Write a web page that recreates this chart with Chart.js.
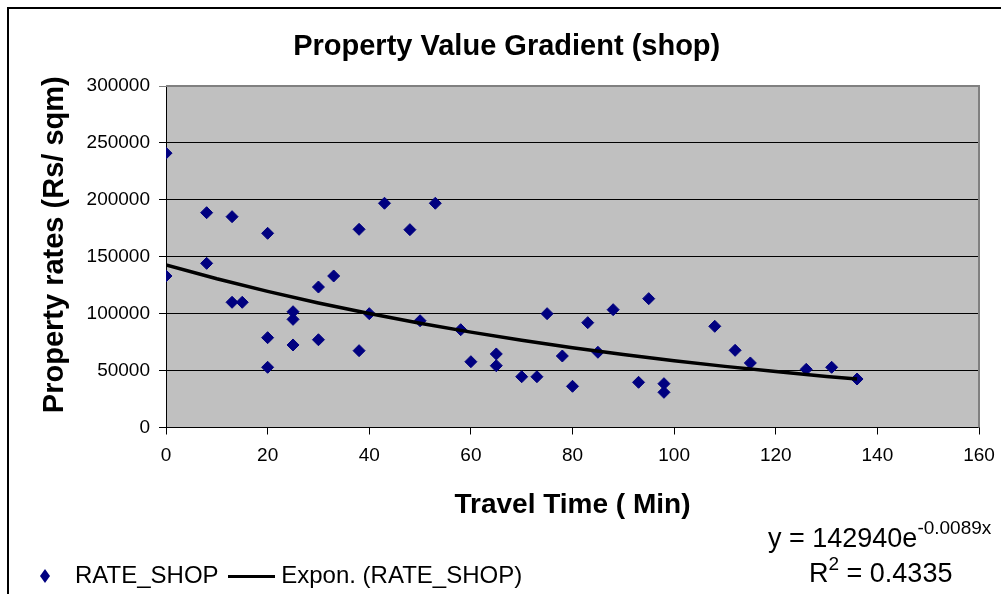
<!DOCTYPE html>
<html>
<head>
<meta charset="utf-8">
<script src="https://cdn.jsdelivr.net/npm/chart.js@4.4.1/dist/chart.umd.min.js"></script>
<style>
  html, body { margin: 0; padding: 0; background: #ffffff; }
  #wrap { width: 1001px; height: 594px; position: relative; }
</style>
</head>
<body>
<div id="wrap"><canvas id="c" width="1001" height="594"></canvas></div>
<script>
// ---- data ----
const travelTime = [0, 0, 8, 8, 13, 13, 15, 20, 20, 20, 25, 25, 25, 30, 30, 33, 38, 38, 43, 53, 48, 40, 50, 58, 60, 65, 65, 70, 73, 75, 78, 80, 83, 85, 88, 95, 93, 98, 98, 108, 112, 115, 126, 131, 136];
const rateShop = [241000, 133100, 188700, 144200, 185200, 110000, 110000, 170600, 78900, 52900, 101700, 95000, 72500, 123400, 77100, 133100, 174100, 67500, 197000, 197000, 173800, 100000, 93800, 85900, 57800, 64600, 54300, 44600, 44600, 100000, 62800, 36200, 92100, 66100, 103500, 113200, 39700, 38500, 30900, 88900, 67800, 56700, 51100, 52900, 42600];
const trendX = [0, 10, 20, 30, 40, 50, 60, 70, 80, 90, 100, 110, 120, 130, 136];
const trendY = [142900, 130700, 119600, 109400, 100100, 91500, 83800, 76600, 70100, 64100, 58700, 53700, 49100, 44900, 42600];
const xTickValues = [0, 20, 40, 60, 80, 100, 120, 140, 160];
const yTickValues = [0, 50000, 100000, 150000, 200000, 250000, 300000];
const chartTitle = 'Property Value Gradient (shop)';
const xTitle = 'Travel Time ( Min)';
const yTitle = 'Property rates (Rs/ sqm)';
const seriesName = 'RATE_SHOP';
const trendName = 'Expon. (RATE_SHOP)';
const equationMain = 'y = 142940e';
const equationSup = '-0.0089x';
const r2Sup = '2';
const r2Rest = ' = 0.4335';

const FAMILY = "'Liberation Sans', Arial, Helvetica, sans-serif";
const NAVY = '#000080';

// legend symbol images
function diamondCanvas() {
  const c = document.createElement('canvas');
  c.width = 10; c.height = 14;
  const g = c.getContext('2d');
  g.fillStyle = NAVY;
  g.beginPath();
  g.moveTo(5, 0); g.lineTo(10, 7); g.lineTo(5, 14); g.lineTo(0, 7); g.closePath();
  g.fill();
  return c;
}
function lineCanvas() {
  const c = document.createElement('canvas');
  c.width = 47; c.height = 3;
  const g = c.getContext('2d');
  g.fillStyle = '#000000';
  g.fillRect(0, 0, 47, 3);
  return c;
}
const legendDiamond = diamondCanvas();
const legendLine = lineCanvas();

const plotBg = {
  id: 'plotBg',
  beforeDraw(chart) {
    const {ctx, chartArea: a} = chart;
    ctx.save();
    ctx.fillStyle = '#C0C0C0';
    ctx.fillRect(a.left, a.top, a.right - a.left, a.bottom - a.top);
    ctx.restore();
  },
  beforeDatasetsDraw(chart) {
    const {ctx, chartArea: a} = chart;
    ctx.save();
    ctx.strokeStyle = '#808080';
    ctx.lineWidth = 2;
    ctx.beginPath();
    ctx.moveTo(a.left, a.top);
    ctx.lineTo(a.right, a.top);
    ctx.lineTo(a.right, a.bottom);
    ctx.stroke();
    ctx.restore();
  },
  afterLayout(chart) {
    const s = chart.scales.y;
    if (s && !s._shifted) {
      const orig = Object.getPrototypeOf(s).drawTitle;
      s.drawTitle = function () {
        this.ctx.save();
        this.ctx.translate(0, -12);
        orig.call(this);
        this.ctx.restore();
      };
      s._shifted = true;
    }
  },
  afterDraw(chart) {
    const ctx = chart.ctx;
    ctx.save();
    ctx.fillStyle = '#000000';
    ctx.textBaseline = 'alphabetic';
    ctx.textAlign = 'left';
    // equation
    ctx.font = '27px ' + FAMILY;
    let x = 768;
    ctx.fillText(equationMain, x, 547);
    x += ctx.measureText(equationMain).width;
    ctx.font = '19px ' + FAMILY;
    ctx.fillText(equationSup, x, 534);
    // R squared
    ctx.font = '27px ' + FAMILY;
    x = 809;
    ctx.fillText('R', x, 582);
    x += ctx.measureText('R').width;
    ctx.font = '19px ' + FAMILY;
    ctx.fillText(r2Sup, x, 570);
    x += ctx.measureText(r2Sup).width;
    ctx.font = '27px ' + FAMILY;
    ctx.fillText(r2Rest, x, 582);
    // outer chart border
    ctx.strokeStyle = '#000000';
    ctx.lineWidth = 2;
    ctx.strokeRect(8, 8, 1100, 700);
    ctx.restore();
  }
};

const scatterData = travelTime.map((t, i) => ({x: t, y: rateShop[i]}));
const trendData = trendX.map((t, i) => ({x: t, y: trendY[i]}));

new Chart(document.getElementById('c'), {
  type: 'scatter',
  data: {
    datasets: [
      {
        label: seriesName,
        data: scatterData,
        pointStyle: 'rectRot',
        pointRadius: 6,
        pointHoverRadius: 6,
        borderWidth: 1,
        backgroundColor: NAVY,
        borderColor: NAVY,
        order: 2
      },
      {
        label: trendName,
        data: trendData,
        showLine: true,
        borderColor: '#000000',
        borderWidth: 3.5,
        pointRadius: 0,
        pointHoverRadius: 0,
        fill: false,
        tension: 0,
        order: 1
      }
    ]
  },
  options: {
    responsive: false,
    animation: false,
    events: [],
    layout: { padding: { left: 12.4, right: 0, top: 0, bottom: -4 } },
    plugins: {
      tooltip: { enabled: false },
      title: {
        display: true,
        text: chartTitle,
        color: '#000000',
        font: { family: FAMILY, size: 29, weight: 'bold', lineHeight: 1.2 },
        padding: { top: 29.6, bottom: 21.6 }
      },
      legend: {
        display: true,
        position: 'bottom',
        align: 'start',
        labels: {
          usePointStyle: true,
          pointStyleWidth: 36,
          padding: 14.6,
          color: '#000000',
          font: { family: FAMILY, size: 24 },
          generateLabels: () => [
            { text: seriesName, pointStyle: legendDiamond, fillStyle: NAVY, strokeStyle: NAVY, lineWidth: 0, hidden: false, rotation: 0, datasetIndex: 0 },
            { text: trendName, pointStyle: legendLine, fillStyle: '#000', strokeStyle: '#000', lineWidth: 0, hidden: false, rotation: 0, datasetIndex: 1 }
          ]
        }
      }
    },
    scales: {
      x: {
        type: 'linear',
        position: 'bottom',
        min: 0,
        max: 160,
        afterBuildTicks: (s) => { s.ticks = xTickValues.map(v => ({value: v})); },
        afterFit: (s) => { s.height = 121.9; },
        ticks: {
          color: '#000000',
          font: { family: FAMILY, size: 19, lineHeight: 1.7 },
          padding: 5,
          maxRotation: 0,
          autoSkip: false,
          callback: (v) => String(v)
        },
        grid: { drawOnChartArea: false, drawTicks: true, tickLength: 7, color: '#000000' },
        border: { display: true, color: '#000000', width: 1 },
        title: {
          display: true,
          text: xTitle,
          color: '#000000',
          font: { family: FAMILY, size: 28, weight: 'bold', lineHeight: 1.2 },
          padding: { top: 0, bottom: 27.6 }
        }
      },
      y: {
        type: 'linear',
        position: 'left',
        min: 0,
        max: 300000,
        afterBuildTicks: (s) => { s.ticks = yTickValues.map(v => ({value: v})); },
        afterFit: (s) => { s.width = 153.6; },
        ticks: {
          color: '#000000',
          font: { family: FAMILY, size: 19 },
          padding: 9,
          autoSkip: false,
          callback: (v) => String(v)
        },
        grid: {
          drawTicks: true,
          tickLength: 7,
          color: (c) => (c.tick && c.tick.value === 300000) ? '#808080' : '#000000',
          lineWidth: 1
        },
        border: { display: true, color: '#000000', width: 1 },
        title: {
          display: true,
          text: yTitle,
          color: '#000000',
          font: { family: FAMILY, size: 29, weight: 'bold', lineHeight: 1.2 },
          padding: { top: 25.2, bottom: 0 }
        }
      },
      yR: {
        type: 'linear',
        position: 'right',
        display: true,
        afterFit: (s) => { s.width = 22; },
        ticks: { display: false },
        grid: { display: false, drawTicks: false },
        border: { display: false }
      }
    }
  },
  plugins: [plotBg]
});
</script>
</body>
</html>
